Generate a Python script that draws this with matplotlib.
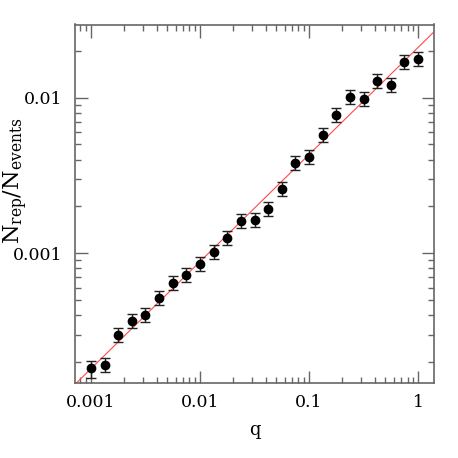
import numpy as np
import matplotlib
matplotlib.use("Agg")
import matplotlib.pyplot as plt
from matplotlib.ticker import FixedLocator, FixedFormatter, LogLocator, NullFormatter

# ---- data ----
q = [0.001, 0.00133, 0.00178, 0.00237, 0.00316, 0.00422, 0.00562, 0.0075,
     0.01, 0.0133, 0.0178, 0.0237, 0.0316, 0.0422, 0.0562, 0.075,
     0.1, 0.133, 0.178, 0.237, 0.316, 0.422, 0.562, 0.75, 1.0]
ratio = [1.84e-4, 1.92e-4, 2.97e-4, 3.67e-4, 4.01e-4, 5.18e-4, 6.44e-4, 7.22e-4,
         8.58e-4, 1.02e-3, 1.26e-3, 1.61e-3, 1.63e-3, 1.93e-3, 2.60e-3, 3.80e-3,
         4.14e-3, 5.73e-3, 7.70e-3, 1.014e-2, 9.77e-3, 1.286e-2, 1.213e-2, 1.698e-2, 1.767e-2]
# relative error sizes (lower, upper)
rel_err_lo = [0.14, 0.10, 0.10, 0.10, 0.10, 0.10, 0.10, 0.10, 0.10, 0.10, 0.10, 0.10, 0.10,
              0.10, 0.10, 0.10, 0.10, 0.10, 0.10, 0.10, 0.10, 0.10, 0.10, 0.10, 0.10]
rel_err_hi = [0.11, 0.11, 0.11, 0.11, 0.11, 0.11, 0.11, 0.11, 0.11, 0.11, 0.11, 0.11, 0.11,
              0.11, 0.11, 0.11, 0.11, 0.11, 0.11, 0.11, 0.11, 0.11, 0.11, 0.11, 0.11]
# power-law fit  N = A * q^alpha
fit_amplitude = 0.0210
fit_slope = 0.688

x_major = [0.001, 0.01, 0.1, 1]
x_major_labels = ["0.001", "0.01", "0.1", "1"]
y_major = [0.001, 0.01]
y_major_labels = ["0.001", "0.01"]

xlim = (7.13e-4, 1.40)
ylim = (1.466e-4, 2.95e-2)

plt.rcParams['font.family'] = ['DejaVu Serif']
plt.rcParams['mathtext.fontset'] = 'dejavuserif'

fig = plt.figure(figsize=(4.58, 4.58), dpi=100)
ax = fig.add_axes([75/458, 75/458, 359/458, 358.5/458])
ax.set_xscale('log')
ax.set_yscale('log')
ax.set_xlim(*xlim)
ax.set_ylim(*ylim)

qa = np.array(q)
ra = np.array(ratio)
yerr = [ra * np.array(rel_err_lo), ra * np.array(rel_err_hi)]

xx = np.logspace(np.log10(xlim[0]), np.log10(xlim[1]), 200)
ax.plot(xx, fit_amplitude * xx**fit_slope, color='#ff4a4a', lw=0.8, zorder=2)

ax.errorbar(qa, ra, yerr=yerr, fmt='o', color='black', ms=6, mec='black',
            ecolor='#222222', elinewidth=1.0, capsize=3.3, capthick=1.0, zorder=3)

gray = '#666666'
for s in ax.spines.values():
    s.set_color(gray)
    s.set_linewidth(1.2)

ax.xaxis.set_major_locator(FixedLocator(x_major))
ax.xaxis.set_major_formatter(FixedFormatter(x_major_labels))
ax.yaxis.set_major_locator(FixedLocator(y_major))
ax.yaxis.set_major_formatter(FixedFormatter(y_major_labels))
ax.xaxis.set_minor_locator(LogLocator(base=10, subs=np.arange(2, 10), numticks=20))
ax.yaxis.set_minor_locator(LogLocator(base=10, subs=np.arange(2, 10), numticks=20))
ax.xaxis.set_minor_formatter(NullFormatter())
ax.yaxis.set_minor_formatter(NullFormatter())

ax.tick_params(which='both', direction='in', top=True, right=True, color=gray, width=1.0)
ax.tick_params(which='major', length=9, labelsize=12.5)
ax.tick_params(which='minor', length=4.5)
ax.tick_params(axis='x', which='major', pad=8)
ax.tick_params(axis='y', which='major', pad=9)

ax.set_xlabel('q', fontsize=13)
ax.xaxis.set_label_coords(0.5, -0.105)
ax.set_ylabel(r'$\mathrm{N}_{\rm rep}/\mathrm{N}_{\rm events}$', fontsize=16)
ax.yaxis.set_label_coords(-0.125, 0.565)

fig.savefig('out.png', dpi=100)
